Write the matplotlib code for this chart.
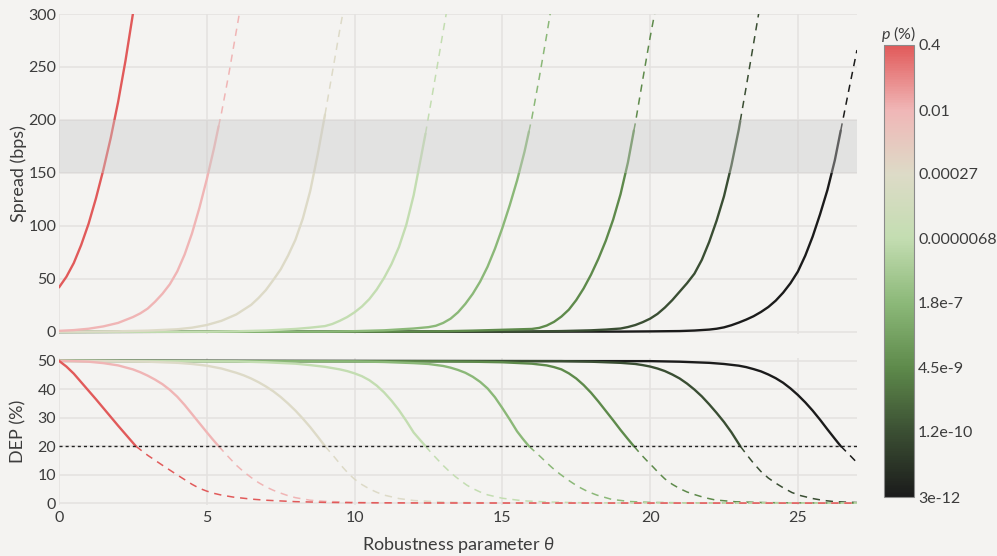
import numpy as np
import matplotlib
matplotlib.use("Agg")
import matplotlib.pyplot as plt
from matplotlib.colors import LinearSegmentedColormap, LogNorm
from matplotlib.cm import ScalarMappable
from matplotlib.ticker import NullLocator

plt.rcParams["font.family"] = ["Lato", "DejaVu Sans"]
plt.rcParams["mathtext.fontset"] = "custom"
plt.rcParams["mathtext.rm"] = "Lato"
plt.rcParams["mathtext.it"] = "Lato:italic"

# ---- data -------------------------------------------------------------
p_values = [0.4, 0.01, 0.00027, 6.8e-6, 1.8e-7, 4.5e-9, 1.2e-10, 3e-12]
p_labels = ["0.4", "0.01", "0.00027", "0.0000068", "1.8e-7", "4.5e-9", "1.2e-10", "3e-12"]

# theta where DEP falls to the 20% threshold (solid before, dashed after)
theta_cut = [2.6, 5.4, 9.0, 12.4, 15.9, 19.45, 23.05, 26.45]

theta_spread = [
    [0, 0.25, 0.5, 0.75, 1.0, 1.25, 1.5, 1.75, 2.0, 2.25, 2.5, 2.6],
    [0, 0.5, 1.0, 1.5, 2.0, 2.5, 2.75, 3.0, 3.25, 3.5, 3.75, 4.0, 4.25, 4.5, 4.75, 5.0, 5.25, 5.4,
     5.5, 5.75, 6.0, 6.1, 6.2],
    [0, 2, 3, 4, 4.5, 5.0, 5.5, 6.0, 6.5, 6.75, 7.0, 7.25, 7.5, 7.75, 8.0, 8.25, 8.5, 8.75, 9.0,
     9.25, 9.5, 9.6, 9.7],
    [0, 5, 6, 7, 8, 8.5, 9.0, 9.25, 9.5, 9.75, 10.0, 10.25, 10.5, 10.75, 11.0, 11.25, 11.5, 11.75,
     12.0, 12.25, 12.4, 12.5, 12.75, 13.0, 13.1, 13.2],
    [0, 9, 10, 11, 12, 12.5, 12.75, 13.0, 13.25, 13.5, 13.75, 14.0, 14.25, 14.5, 14.75, 15.0, 15.25,
     15.5, 15.75, 15.9, 16.0, 16.25, 16.5, 16.6, 16.7],
    [0, 12, 13, 14, 15, 15.5, 16.0, 16.25, 16.5, 16.75, 17.0, 17.25, 17.5, 17.75, 18.0, 18.25, 18.5,
     18.75, 19.0, 19.25, 19.45, 19.5, 19.75, 20.0, 20.15, 20.25],
    [0, 16, 17, 18, 18.5, 19.0, 19.25, 19.5, 19.75, 20.0, 20.25, 20.5, 20.75, 21.0, 21.25, 21.5, 21.75,
     22.0, 22.25, 22.5, 22.75, 23.0, 23.05, 23.25, 23.5, 23.75],
    [0, 19, 20, 21, 21.5, 22.0, 22.25, 22.5, 22.75, 23.0, 23.25, 23.5, 23.75, 24.0, 24.25, 24.5, 24.75,
     25.0, 25.25, 25.5, 25.75, 26.0, 26.25, 26.45, 26.5, 26.75, 27.0],
]
spread_bps = [
    [42, 52, 65, 82, 102, 126, 153, 183, 217, 256, 300, 318],
    [1, 1.7, 3.0, 5.2, 8.5, 14, 17.5, 22, 28.5, 36, 45, 57, 73, 93, 117, 144, 174, 194,
     207, 244, 284, 300, 317],
    [0.2, 0.6, 1.2, 2.5, 4, 6.5, 10.5, 16.5, 25.5, 32, 39.5, 49, 59, 72, 87, 107, 133, 167, 205,
     245, 285, 300, 316],
    [0, 0.2, 0.6, 1.3, 2.8, 4.0, 5.5, 7.5, 10.5, 14, 18.5, 24, 31, 40, 51, 64, 80, 101,
     129, 165, 187, 203, 243, 284, 300, 316],
    [0, 0.3, 0.7, 1.5, 3.2, 4.5, 5.8, 8.5, 12.5, 18.5, 26.5, 36, 47.5, 61.5, 78.5, 98, 119.5,
     143, 170, 189, 202, 240, 280, 297, 314],
    [0, 0.3, 0.6, 1.2, 2.0, 2.4, 2.8, 3.8, 6.0, 9.5, 14.5, 21, 30, 41, 54, 69, 86,
     106, 130, 160, 190, 197, 238, 278, 300, 316],
    [0, 0.4, 0.8, 1.5, 2.2, 3.2, 4.6, 6.5, 9.2, 12.5, 17, 23, 30, 38, 46, 55, 68,
     85, 105, 128, 157, 191, 199, 231, 272, 313],
    [0, 0.3, 0.5, 0.8, 1.3, 2.2, 3.0, 4.3, 6.3, 8.8, 11.6, 14.8, 18.8, 23.5, 29.5, 37, 46,
     57, 72, 90, 111, 134, 162, 190, 197, 232, 266],
]

theta_dep = [
    [0, 0.25, 0.5, 0.75, 1.0, 1.25, 1.5, 1.75, 2.0, 2.25, 2.6, 3.0, 3.5, 4.0, 4.5, 4.75, 5.0, 5.25,
     5.5, 5.9, 6.5, 7.0, 8.0, 9.0, 10.0, 12.0, 15.0, 27.0],
    [0, 0.5, 1.0, 1.5, 2.0, 2.5, 2.75, 3.0, 3.25, 3.5, 3.75, 4.0, 4.25, 4.5, 4.75, 5.0, 5.2, 5.4,
     5.7, 6.0, 6.25, 6.5, 6.75, 7.0, 7.25, 7.5, 7.75, 8.0, 8.5, 9.0, 10.0, 11.0, 13.0, 27.0],
    [0, 2, 3, 4, 4.5, 5.0, 5.5, 6.0, 6.25, 6.5, 6.75, 7.0, 7.25, 7.5, 7.75, 8.0, 8.25, 8.5, 8.75, 9.0,
     9.3, 9.6, 9.8, 10.0, 10.25, 10.5, 10.75, 11.0, 11.5, 12.0, 13.0, 14.0, 16.0, 27.0],
    [0, 6, 7, 8, 8.5, 9.0, 9.5, 9.75, 10.0, 10.25, 10.5, 10.75, 11.0, 11.25, 11.5, 11.75, 12.0, 12.2,
     12.4, 12.6, 12.8, 13.0, 13.2, 13.4, 13.6, 13.8, 14.0, 14.25, 14.5, 15.0, 15.7, 16.5, 17.5, 19.0, 27.0],
    [0, 10, 11, 12, 12.5, 13.0, 13.25, 13.5, 13.75, 14.0, 14.25, 14.5, 14.75, 15.0, 15.25, 15.5, 15.7,
     15.9, 16.1, 16.3, 16.5, 16.7, 16.95, 17.2, 17.4, 17.6, 17.9, 18.2, 18.7, 19.3, 20, 21, 23, 27],
    [0, 13, 14, 15, 16, 16.5, 16.75, 17.0, 17.25, 17.5, 17.75, 18.0, 18.25, 18.5, 18.75, 19.0, 19.25,
     19.45, 19.7, 19.9, 20.1, 20.3, 20.5, 20.75, 21.0, 21.25, 21.5, 21.85, 22.2, 22.9, 24.0, 25.5, 27.0],
    [0, 17, 18, 19, 19.5, 19.75, 20.0, 20.25, 20.5, 20.75, 21.0, 21.25, 21.5, 21.75, 22.0, 22.25, 22.5,
     22.75, 23.05, 23.3, 23.5, 23.75, 24.0, 24.25, 24.5, 24.8, 25.1, 25.5, 25.85, 26.2, 26.6, 27.0],
    [0, 20, 21, 22, 22.5, 23.0, 23.25, 23.5, 23.75, 24.0, 24.25, 24.5, 24.75, 25.0, 25.25, 25.5, 25.75,
     26.0, 26.25, 26.45, 26.75, 27.0],
]
dep_pct = [
    [50, 48.0, 45.5, 42.5, 39.5, 36.5, 33.4, 30.3, 27.2, 24.2, 20, 16.8, 13.3, 9.9, 6.6, 5.2, 4.2, 3.4,
     2.8, 2.1, 1.4, 1.0, 0.5, 0.25, 0.12, 0.05, 0.02, 0.0],
    [50, 49.9, 49.7, 49.2, 48.4, 47.0, 46.0, 44.8, 43.4, 41.8, 39.8, 37.4, 34.5, 31.3, 28.1, 24.9, 22.4, 20,
     16.6, 13.3, 11.0, 9.0, 7.2, 5.7, 4.5, 3.5, 2.6, 1.9, 1.0, 0.6, 0.25, 0.1, 0.03, 0.0],
    [50, 49.9, 49.7, 49.3, 48.9, 48.3, 47.3, 45.8, 44.9, 43.8, 42.5, 41.0, 39.3, 37.3, 35.0, 32.5, 29.7, 26.7, 23.4, 20,
     16.4, 12.6, 10.3, 8.4, 6.5, 5.0, 3.8, 2.8, 1.6, 0.9, 0.35, 0.15, 0.05, 0.0],
    [50, 49.8, 49.5, 49.0, 48.5, 47.9, 47.0, 46.4, 45.6, 44.6, 43.2, 41.3, 38.9, 36.0, 32.7, 28.9, 24.8, 22.4,
     20, 17.6, 15.4, 13.2, 11.2, 9.4, 7.8, 6.3, 5.1, 3.9, 2.9, 1.7, 0.8, 0.4, 0.15, 0.05, 0.0],
    [50, 49.8, 49.6, 49.2, 48.9, 48.2, 47.6, 46.8, 45.8, 44.4, 42.6, 40.3, 37.2, 33.4, 29.4, 25.2, 22.5,
     20, 18.1, 16.2, 14.2, 12.3, 10.2, 8.3, 6.9, 5.6, 4.0, 2.8, 1.3, 0.55, 0.25, 0.1, 0.03, 0.0],
    [50, 49.8, 49.7, 49.5, 49.0, 48.4, 47.8, 47.0, 45.6, 43.8, 41.5, 38.8, 35.7, 32.4, 29.1, 25.7, 22.5,
     20, 17.0, 14.8, 12.7, 10.5, 8.5, 6.6, 5.1, 3.9, 3.0, 1.9, 1.1, 0.45, 0.15, 0.05, 0.02],
    [50, 49.9, 49.7, 49.3, 48.9, 48.5, 48.0, 47.3, 46.4, 45.2, 43.8, 42.0, 39.9, 37.5, 34.7, 31.7, 28.5,
     24.9, 20, 16.6, 14.0, 11.1, 8.8, 7.0, 5.4, 3.7, 2.6, 1.6, 0.95, 0.55, 0.35, 0.2],
    [50, 49.9, 49.7, 49.3, 48.9, 48.3, 47.8, 47.1, 46.3, 45.2, 43.9, 42.3, 40.3, 38.0, 35.4, 32.5, 29.3,
     25.9, 22.6, 20, 16.9, 14.2],
]

# ---- style ------------------------------------------------------------
BG = "#f4f3f1"
GRID = "#e4e2e0"
TXT = "#3c3c3c"
anchor_colors = ["#e15a5a", "#f0b7b7", "#dddbc7", "#c3ddb1",
                 "#8cb979", "#5e8a4b", "#3b4f33", "#1b1b1b"]

norm = LogNorm(vmin=min(p_values), vmax=max(p_values))
stops = [float(norm(p)) for p in p_values][::-1]
cmap = LinearSegmentedColormap.from_list("pcol", list(zip(stops, anchor_colors[::-1])))

fig = plt.figure(figsize=(9.97, 5.56), dpi=100, facecolor=BG)
W, H = 997, 556
ax1 = fig.add_axes([59 / W, 1 - 333.5 / H, 798 / W, (333.5 - 14) / H], facecolor=BG)
ax2 = fig.add_axes([59 / W, 1 - 504.5 / H, 798 / W, (504.5 - 358) / H], facecolor=BG, sharex=ax1)

for ax in (ax1, ax2):
    for s in ax.spines.values():
        s.set_visible(False)
    ax.grid(True, color=GRID, lw=1.1, zorder=0)
    ax.set_axisbelow(True)
    ax.tick_params(length=0, labelsize=11.5, labelcolor=TXT, pad=2)

ax1.set_xlim(0, 27)
ax1.set_ylim(-1.5, 300)
ax1.set_yticks([0, 50, 100, 150, 200, 250, 300])
ax1.tick_params(labelbottom=False)
ax2.set_ylim(-0.5, 51)
ax2.set_yticks([0, 10, 20, 30, 40, 50])
ax2.set_xticks([0, 5, 10, 15, 20, 25])
ax2.tick_params(axis="x", pad=5)

dash = (0, (4.8, 3.8))
for i in reversed(range(len(p_values))):
    c = cmap(norm(p_values[i]))
    cut = theta_cut[i]
    for ax, tx, ty in ((ax1, theta_spread[i], spread_bps[i]), (ax2, theta_dep[i], dep_pct[i])):
        tx = np.asarray(tx, float)
        ty = np.asarray(ty, float)
        solid = tx <= cut + 1e-9
        dashed = tx >= cut - 1e-9
        ax.plot(tx[solid], ty[solid], color=c, lw=1.7, zorder=2,
                solid_capstyle="round", solid_joinstyle="round")
        if dashed.sum() > 1:
            ax.plot(tx[dashed], ty[dashed], color=c, lw=1.1, ls=dash, zorder=2)

# target spread band and DEP threshold
ax1.axhspan(150, 200, color="#c9c9c9", alpha=0.4, lw=0, zorder=3)
ax2.axhline(20, color="#222222", lw=1.0, ls=(0, (2.2, 2.2)), zorder=4)

ax1.set_ylabel("Spread (bps)", fontsize=13, color=TXT, va="center")
ax1.yaxis.set_label_coords(-0.051, 0.5)
ax2.set_ylabel("DEP (%)", fontsize=13, color=TXT, va="center")
ax2.yaxis.set_label_coords(-0.051, 0.5)
ax2.set_xlabel(r"Robustness parameter $\theta$", fontsize=13, color=TXT, labelpad=7)

# colour bar
cax = fig.add_axes([884 / W, 1 - 497 / H, 30 / W, 452 / H])
cb = fig.colorbar(ScalarMappable(norm=norm, cmap=cmap), cax=cax)
cb.set_ticks(p_values)
cb.set_ticklabels(p_labels)
cax.yaxis.set_minor_locator(NullLocator())
cax.tick_params(length=0, pad=3, labelsize=11.5, labelcolor=TXT)
cb.outline.set_edgecolor("#8a8a8a")
cb.outline.set_linewidth(0.8)
fig.text(899 / W, 1 - 34 / H, r"$p$ (%)", ha="center", va="center", fontsize=11.5, color=TXT)

fig.savefig("out.png", dpi=100, facecolor=BG)
